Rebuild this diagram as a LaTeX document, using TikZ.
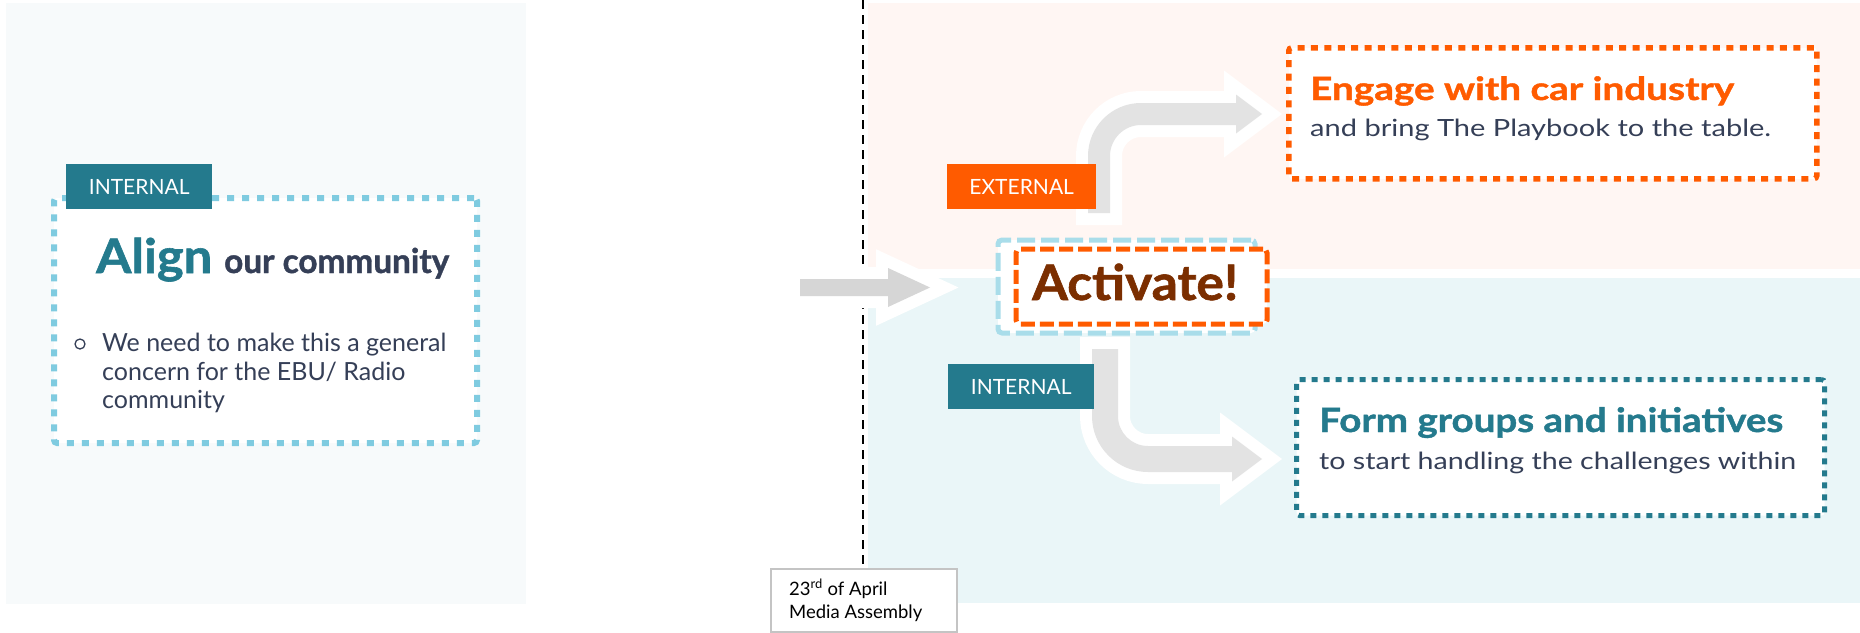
\documentclass[tikz,border=0pt]{standalone}
\usepackage{fontspec}
\setmainfont{Lato}
\newfontfamily\heavyfont{Lato}[FakeBold=1.2]
\usepackage{graphicx}
\usetikzlibrary{calc}

\definecolor{leftbg}{HTML}{F7FAFB}
\definecolor{peachbg}{HTML}{FFF6F3}
\definecolor{bluebg}{HTML}{EAF6F8}
\definecolor{teal}{HTML}{247A8D}
\definecolor{dotblue}{HTML}{7FCBE0}
\definecolor{dashblue}{HTML}{A9DDEA}
\definecolor{orange}{HTML}{FF5B00}
\definecolor{brown}{HTML}{7B2E00}
\definecolor{slate}{HTML}{353F57}
\definecolor{arrowgrayA}{HTML}{D6D6D6}
\definecolor{arrowgrayB}{HTML}{E3E3E3}
\definecolor{dateborder}{HTML}{C4C4C4}

\newcommand{\fsz}[1]{\fontsize{#1}{#1}\selectfont}
% set a line of text to a given width, keeping its height
\newcommand{\fitw}[2]{\resizebox{#1pt}{\height}{#2}}

\tikzset{
  tagbox/.style={fill=#1, text=white, font=\fsz{21}, inner sep=0pt,
    minimum width=146pt, minimum height=45pt, anchor=north west},
  fatarrow/.style={fill=#1,
    preaction={draw=white, fill=white, line width=24pt, line join=miter, miter limit=10}},
  txt/.style={inner sep=0pt, anchor=base west},
}

\begin{document}
\begin{tikzpicture}[x=1pt, y=-1pt]
\useasboundingbox (0,0) rectangle (1860,632);

% background panels
\fill[leftbg] (6,3) rectangle (526,604);
\fill[peachbg] (868,3) rectangle (1860,269);
\fill[bluebg] (868,278) rectangle (1860,603);

% date marker and its timeline
\node[draw=dateborder, line width=2pt, fill=white, inner sep=0pt,
      minimum width=186pt, minimum height=63pt, anchor=north west] (date) at (770,568) {};
\node[txt, font=\fsz{18.5}, text=black] (d1) at (789,595) {23\textsuperscript{rd} of April};
\node[txt, font=\fsz{18.5}, text=black] (d2) at (789,618) {Media Assembly};
\coordinate (linetop) at (863,0);
\draw[black, line width=2pt, dash pattern=on 9pt off 6pt] (linetop) -- (date.north -| linetop);

% incoming arrow
\fill[fatarrow=arrowgrayA] (800,279) -- (888,279) -- (888,268) -- (930,287.5)
  -- (888,307) -- (888,296) -- (800,296) -- cycle;

% left: align box
\node[draw=dotblue, fill=white, line width=6pt, dash pattern=on 7pt off 8pt,
      rounded corners=3pt, inner sep=0pt, minimum width=423pt, minimum height=245pt,
      anchor=north west] (alignbox) at (51,195) {};
\node[tagbox=teal] (tagA) at (66,164) {INTERNAL};
\node[txt, font=\fsz{47.5}\heavyfont\bfseries, text=teal] (align) at (96,273) {\fitw{116}{Align}};
\node[txt, font=\fsz{34}\heavyfont\bfseries, text=slate] (comm) at (224,273) {\fitw{225}{our community}};
\node[draw=slate, line width=1.3pt, circle, minimum size=10pt, inner sep=0pt] (bul) at (80,344) {};
\node[txt, font=\fsz{25}, text=slate] (b1) at (102,351) {We need to make this a general};
\node[txt, font=\fsz{25}, text=slate] (b2) at (102,380) {concern for the EBU/ Radio};
\node[txt, font=\fsz{25}, text=slate] (b3) at (102,408) {community};

% activate boxes
\node[draw=dashblue, fill=white, line width=5pt, dash pattern=on 18pt off 6pt,
      rounded corners=4pt, inner sep=0pt, minimum width=257pt, minimum height=93pt,
      anchor=north west] (actback) at (995.5,237.5) {};
\node[draw=orange, fill=white, line width=5pt, dash pattern=on 14pt off 5pt,
      rounded corners=4pt, inner sep=0pt, minimum width=251pt, minimum height=75pt,
      anchor=north west] (actbox) at (1013.5,246.5) {};
\node[txt, font=\fsz{49}\heavyfont\bfseries, text=brown] (act) at (1032,300) {\fitw{206}{Activate!}};

% branch arrows
\fill[fatarrow=arrowgrayB] (1088,213) -- (1088,156)
  .. controls (1088,126.7) and (1111.7,103) .. (1141,103)
  -- (1236,103) -- (1236,94.5) -- (1262,114) -- (1236,133.5) -- (1236,125) -- (1141,125)
  .. controls (1123.9,125) and (1110,138.9) .. (1110,156)
  -- (1110,213) -- cycle;
\fill[fatarrow=arrowgrayB] (1092,349) -- (1092,416)
  .. controls (1092,446.9) and (1117.1,472) .. (1148,472)
  -- (1232,472) -- (1232,481.5) -- (1262,459) -- (1232,436.5) -- (1232,446) -- (1148,446)
  .. controls (1131.4,446) and (1118,432.6) .. (1118,416)
  -- (1118,349) -- cycle;

\node[tagbox=orange, minimum width=149pt] (tagE) at (947,164) {EXTERNAL};
\node[tagbox=teal] (tagI) at (948,364) {INTERNAL};

% external outcome
\node[draw=orange, fill=white, line width=5.5pt, dash pattern=on 7pt off 6.4pt,
      rounded corners=3pt, inner sep=0pt, minimum width=528pt, minimum height=131pt,
      anchor=north west] (engbox) at (1286,45) {};
\node[txt, font=\fsz{32}\heavyfont\bfseries, text=orange] (eng) at (1310,100) {\fitw{424}{Engage with car industry}};
\node[txt, font=\fsz{23.7}, text=slate] (engsub) at (1310,136) {\fitw{461}{and bring The Playbook to the table.}};

% internal outcome
\node[draw=teal, fill=white, line width=5pt, dash pattern=on 6pt off 6pt,
      rounded corners=3pt, inner sep=0pt, minimum width=528pt, minimum height=136pt,
      anchor=north west] (formbox) at (1294,377) {};
\node[txt, font=\fsz{33.5}\heavyfont\bfseries, text=teal] (form) at (1319,432) {\fitw{464}{Form groups and initiatives}};
\node[txt, font=\fsz{23.7}, text=slate] (formsub) at (1319,469) {\fitw{477}{to start handling the challenges within}};
\end{tikzpicture}
\end{document}
